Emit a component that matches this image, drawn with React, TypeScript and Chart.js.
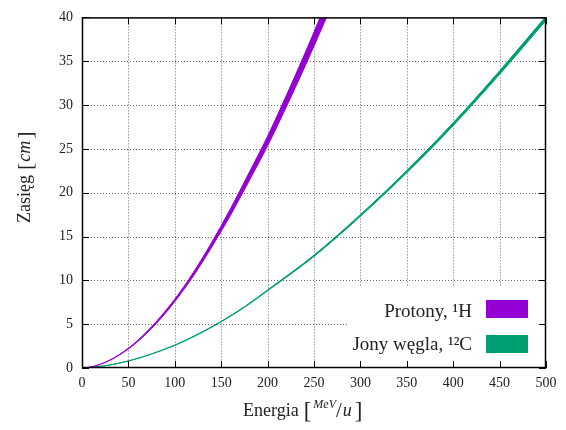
import { useEffect, useRef } from "react";
import { Chart, registerables } from "chart.js";

Chart.register(...registerables);

// ---- Data ----
const PROTON_E = [0, 10, 20, 30, 40, 50, 60, 70, 80, 90, 100, 120, 140, 160, 180, 200, 220, 240, 260, 270];
const PROTON_LOW = [0, 0.12, 0.42, 0.87, 1.46, 2.17, 3.01, 3.99, 5.07, 6.27, 7.58, 10.5, 13.83, 17.43, 21.33, 25.35, 29.75, 34.35, 39.15, 41.6];
const PROTON_HIGH = [0, 0.12, 0.44, 0.91, 1.52, 2.27, 3.15, 4.17, 5.29, 6.53, 7.86, 10.9, 14.37, 18.17, 22.27, 26.45, 31.05, 35.85, 40.85, 43.4];

const CARBON_E = [0, 25, 50, 75, 100, 125, 150, 175, 200, 250, 300, 350, 400, 450, 500];
const CARBON_LOW = [0, 0.25, 0.79, 1.59, 2.58, 3.82, 5.27, 6.91, 8.81, 12.72, 17.3, 22.28, 27.65, 33.5, 39.66];
const CARBON_HIGH = [0, 0.25, 0.81, 1.61, 2.62, 3.88, 5.33, 6.99, 8.91, 12.88, 17.5, 22.54, 27.99, 33.9, 40.14];

const X_TICKS = [0, 50, 100, 150, 200, 250, 300, 350, 400, 450, 500];
const Y_TICKS = [0, 5, 10, 15, 20, 25, 30, 35, 40];

const LEGEND_LABELS = ["Protony, \u00B9H", "Jony w\u0119gla, \u00B9\u00B2C"];
const SERIES_COLORS = ["#9400d3", "#009e73"];

const SERIF = '"Liberation Serif", "DejaVu Serif", serif';

function toPoints(xs: number[], ys: number[]) {
  return xs.map((x, i) => ({ x, y: ys[i] }));
}

const framePlugin = {
  id: "frame",
  beforeDatasetsDraw(chart: any) {
    const { ctx, chartArea: a, scales } = chart;
    const x = scales.x;
    const y = scales.y;
    ctx.save();
    ctx.strokeStyle = "rgba(0,0,0,0.6)";
    ctx.lineWidth = 1;
    ctx.setLineDash([1, 2]);
    X_TICKS.slice(1, -1).forEach((t) => {
      const px = Math.round(x.getPixelForValue(t)) + 0.5;
      ctx.beginPath();
      ctx.moveTo(px, a.top);
      ctx.lineTo(px, a.bottom);
      ctx.stroke();
    });
    Y_TICKS.slice(1, -1).forEach((t) => {
      const py = Math.round(y.getPixelForValue(t)) + 0.5;
      ctx.beginPath();
      ctx.moveTo(a.left, py);
      ctx.lineTo(a.right, py);
      ctx.stroke();
    });
    ctx.restore();
  },
  afterDatasetsDraw(chart: any) {
    const { ctx, chartArea: a, scales } = chart;
    const x = scales.x;
    const y = scales.y;
    ctx.save();
    // legend box
    ctx.fillStyle = "#ffffff";
    ctx.fillRect(a.right - 198, a.bottom - 81, 198, 81);
    ctx.font = `19px ${SERIF}`;
    ctx.textAlign = "right";
    ctx.textBaseline = "alphabetic";
    const rows = [
      { base: a.bottom - 51, top: a.bottom - 68 },
      { base: a.bottom - 18, top: a.bottom - 33 },
    ];
    rows.forEach((r, i) => {
      ctx.fillStyle = "#222";
      ctx.fillText(LEGEND_LABELS[i], a.right - 74, r.base);
      ctx.fillStyle = SERIES_COLORS[i];
      ctx.fillRect(a.right - 60, r.top, 42, 18);
    });

    // border
    ctx.strokeStyle = "#000";
    ctx.lineWidth = 1.5;
    ctx.setLineDash([]);
    ctx.strokeRect(a.left + 0.5, a.top + 0.5, a.right - a.left - 1, a.bottom - a.top - 1);

    // inward ticks
    ctx.lineWidth = 1;
    const tl = 7;
    X_TICKS.forEach((t) => {
      const px = Math.round(x.getPixelForValue(t)) + 0.5;
      ctx.beginPath();
      ctx.moveTo(px, a.bottom);
      ctx.lineTo(px, a.bottom - tl);
      ctx.moveTo(px, a.top);
      ctx.lineTo(px, a.top + tl);
      ctx.stroke();
    });
    Y_TICKS.forEach((t) => {
      const py = Math.round(y.getPixelForValue(t)) + 0.5;
      ctx.beginPath();
      ctx.moveTo(a.left, py);
      ctx.lineTo(a.left + tl, py);
      ctx.moveTo(a.right, py);
      ctx.lineTo(a.right - tl, py);
      ctx.stroke();
    });
    ctx.restore();
  },
  afterDraw(chart: any) {
    const { ctx } = chart;
    ctx.save();
    ctx.fillStyle = "#222";
    ctx.textAlign = "left";
    ctx.textBaseline = "alphabetic";

    // X title: Energia [MeV/u]
    let cx = 243;
    const base = 416;
    ctx.font = `18px ${SERIF}`;
    ctx.fillText("Energia", cx, base);
    cx += ctx.measureText("Energia").width + 5;
    ctx.font = `23px ${SERIF}`;
    ctx.fillText("[", cx, base + 2);
    cx += ctx.measureText("[").width + 2;
    ctx.font = `italic 12px ${SERIF}`;
    ctx.fillText("MeV", cx, base - 8);
    cx += ctx.measureText("MeV").width;
    ctx.font = `21px ${SERIF}`;
    ctx.fillText("/", cx, base + 1);
    cx += ctx.measureText("/").width + 1;
    ctx.font = `italic 18px ${SERIF}`;
    ctx.fillText("u", cx, base);
    cx += ctx.measureText("u").width + 3;
    ctx.font = `23px ${SERIF}`;
    ctx.fillText("]", cx, base + 2);

    // Y title: Zasięg [cm]
    ctx.translate(30, 223);
    ctx.rotate(-Math.PI / 2);
    let cy = 0;
    ctx.font = `18px ${SERIF}`;
    ctx.fillText("Zasi\u0119g", cy, 0);
    cy += ctx.measureText("Zasi\u0119g").width + 5;
    ctx.font = `22px ${SERIF}`;
    ctx.fillText("[", cy, 2);
    cy += ctx.measureText("[").width + 1;
    ctx.font = `italic 18px ${SERIF}`;
    ctx.fillText("cm", cy, 0);
    cy += ctx.measureText("cm").width + 2;
    ctx.font = `22px ${SERIF}`;
    ctx.fillText("]", cy, 2);
    ctx.restore();
  },
};

export default function App() {
  const canvasRef = useRef<HTMLCanvasElement | null>(null);

  useEffect(() => {
    const canvas = canvasRef.current;
    if (!canvas) return;
    const common = {
      borderWidth: 1,
      pointRadius: 0,
      cubicInterpolationMode: "monotone",
    };
    const chart = new Chart(canvas, {
      type: "line",
      data: {
        datasets: [
          {
            ...common,
            label: LEGEND_LABELS[0],
            data: toPoints(PROTON_E, PROTON_HIGH),
            borderColor: SERIES_COLORS[0],
            backgroundColor: SERIES_COLORS[0],
            fill: "+1",
          },
          {
            ...common,
            label: LEGEND_LABELS[0] + " low",
            data: toPoints(PROTON_E, PROTON_LOW),
            borderColor: SERIES_COLORS[0],
            backgroundColor: SERIES_COLORS[0],
            fill: false,
          },
          {
            ...common,
            label: LEGEND_LABELS[1],
            data: toPoints(CARBON_E, CARBON_HIGH),
            borderColor: SERIES_COLORS[1],
            backgroundColor: SERIES_COLORS[1],
            fill: "+1",
          },
          {
            ...common,
            label: LEGEND_LABELS[1] + " low",
            data: toPoints(CARBON_E, CARBON_LOW),
            borderColor: SERIES_COLORS[1],
            backgroundColor: SERIES_COLORS[1],
            fill: false,
          },
        ],
      },
      options: {
        responsive: false,
        animation: false,
        devicePixelRatio: 1,
        layout: { padding: { top: 17, right: 20, left: 0, bottom: 0 } },
        plugins: {
          legend: { display: false },
          tooltip: { enabled: false },
        },
        scales: {
          x: {
            type: "linear",
            min: 0,
            max: 500,
            afterBuildTicks: (s: any) => {
              s.ticks = X_TICKS.map((v) => ({ value: v }));
            },
            afterFit: (s: any) => {
              s.height = 62;
            },
            grid: { display: false, drawTicks: false },
            border: { display: false },
            ticks: {
              font: { family: SERIF, size: 14 },
              color: "#222",
              padding: 7,
              maxRotation: 0,
              autoSkip: false,
            },
          },
          y: {
            type: "linear",
            min: 0,
            max: 40,
            afterBuildTicks: (s: any) => {
              s.ticks = Y_TICKS.map((v) => ({ value: v }));
            },
            afterFit: (s: any) => {
              s.width = 82;
            },
            grid: { display: false, drawTicks: false },
            border: { display: false },
            ticks: {
              font: { family: SERIF, size: 14 },
              color: "#222",
              padding: 9,
              autoSkip: false,
            },
          },
        },
      },
      plugins: [framePlugin],
    } as any);
    return () => chart.destroy();
  }, []);

  return (
    <div style={{ position: "absolute", left: 0, top: 0, width: 566, height: 430, background: "#fff" }}>
      <canvas ref={canvasRef} width={566} height={430} style={{ display: "block" }} />
    </div>
  );
}
